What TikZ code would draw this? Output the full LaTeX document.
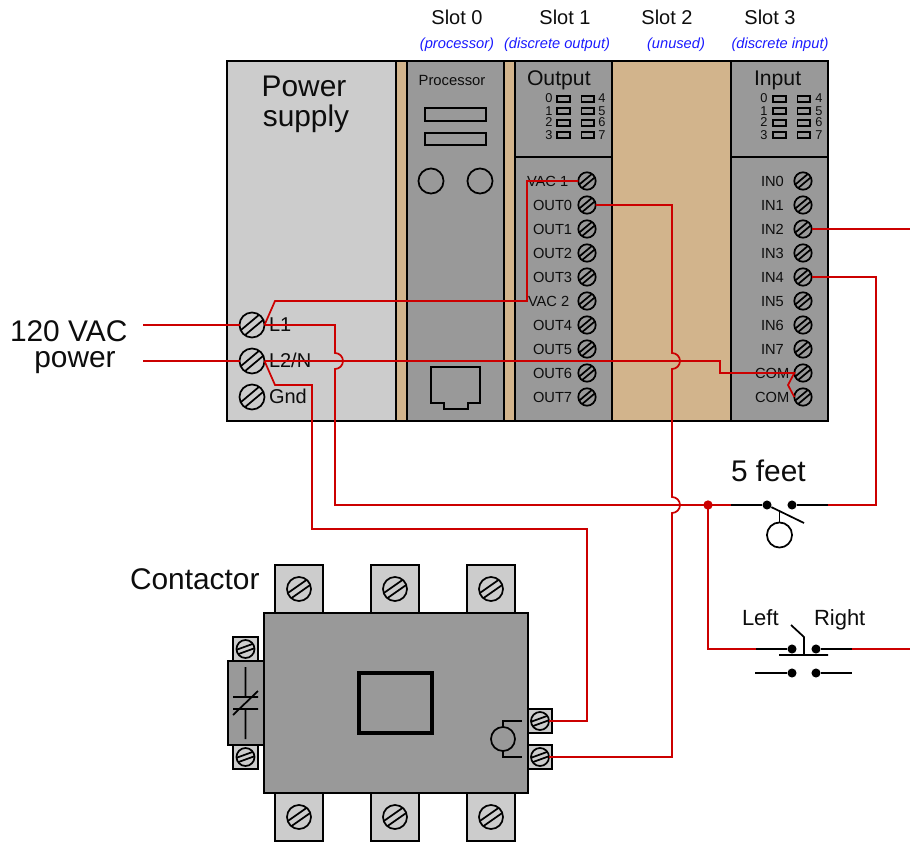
\documentclass[tikz,border=0pt]{standalone}
\usepackage{fontspec}
\setmainfont{Liberation Sans}
\definecolor{panel}{HTML}{999999}
\definecolor{light}{HTML}{CCCCCC}
\definecolor{rack}{HTML}{D2B48C}
\definecolor{wirered}{HTML}{CC0000}
\definecolor{slotblue}{HTML}{1A1AFF}
\newcommand\fs[1]{\fontsize{#1}{#1}\selectfont}
\tikzset{
  x=0.75pt,y=-0.75pt,
  box/.style={draw=black,line width=1.6pt,line join=miter},
  thin box/.style={draw=black,line width=1.3pt},
  sym/.style={draw=black,line width=1.3pt},
  wire/.style={draw=wirered,line width=1.3pt,line join=miter},
  screw/.style={circle,draw=black,line width=1.3pt,inner sep=0pt,outer sep=0pt},
  dot/.style={circle,fill=black,inner sep=0pt,minimum size=6.8pt},
  reddot/.style={circle,fill=wirered,inner sep=0pt,minimum size=7pt},
  txt/.style={inner sep=0pt,outer sep=0pt,anchor=base west,text=black!95},
  ctxt/.style={inner sep=0pt,outer sep=0pt,anchor=base,text=black!95},
  big/.style={font=\fs{22.4}},
  slot/.style={ctxt,font=\fs{15}},
  sub/.style={ctxt,font=\fs{11}\itshape,text=slotblue},
  term/.style={txt,font=\fs{11}},
  led/.style={ctxt,font=\fs{9.6}},
}
\newcommand\screwnode[5]{%
  \node[screw,minimum size={1.5pt*#4}] (#1) at (#2,#3) {};
  \draw[sym,shift={(#2,#3)},rotate=#5] (-.95*#4,.26*#4) -- (.95*#4,.26*#4) (-.95*#4,-.26*#4) -- (.95*#4,-.26*#4);
}
\begin{document}
\begin{tikzpicture}
\useasboundingbox (0,0) rectangle (910,842);
% rack
\draw[box,fill=rack] (396,61) rectangle (731,421);
\draw[box,fill=light] (227,61) rectangle (396,421);
\draw[box,fill=panel] (407,61) rectangle (504,421);
\draw[box,fill=panel] (515,61) rectangle (612,421);
\draw[box,fill=panel] (731,61) rectangle (828,421);
\draw[thin box] (515,157) -- (612,157) (731,157) -- (828,157);
% slot titles
\node[slot] (s0) at (457,25) {Slot 0};
\node[slot] (s1) at (565,25) {Slot 1};
\node[slot] (s2) at (667,25) {Slot 2};
\node[slot] (s3) at (770,25) {Slot 3};
\node[sub] (t0) at (457,49) {(processor)};
\node[sub] (t1) at (557,49) {(discrete output)};
\node[sub] (t2) at (676,49) {(unused)};
\node[sub] (t3) at (780,49) {(discrete input)};
% power supply
\node[ctxt,big] (pw1) at (304,97) {Power};
\node[ctxt,big] (pw2) at (306,127) {supply};
\node[txt,font=\fs{15}] (l1) at (269,331) {L1};
\node[txt,font=\fs{15}] (l2) at (269,367) {L2/N};
\node[txt,font=\fs{15}] (gnd) at (269,403) {Gnd};
\screwnode{pl1}{252}{325}{12.5}{40}
\screwnode{pl2}{252}{361}{12.5}{40}
\screwnode{pg}{252}{397}{12.5}{40}
% processor
\node[ctxt,font=\fs{11.1}] (proc) at (452,85) {Processor};
\draw[sym] (425,108) rectangle (486,121) (425,133) rectangle (486,145);
\draw[sym] (431,181) circle[radius=9.4pt] (480,181) circle[radius=9.4pt];
\draw[sym] (431,367) -- (480,367) -- (480,403) -- (468,403) -- (468,409) -- (444,409) -- (444,403) -- (431,403) -- cycle;
% output and input modules
\node[txt,font=\fs{15.9}] (outt) at (527,85) {Output};
\node[txt,font=\fs{15.9}] (int) at (754,85) {Input};
\foreach \i/\yy in {0/99,1/111,2/123,3/135}{
  \pgfmathtruncatemacro\j{\i+4}
  \draw[sym] (557,\yy-3) rectangle (570,\yy+3) (581.5,\yy-3) rectangle (594,\yy+3)
             (773,\yy-3) rectangle (786,\yy+3) (797.5,\yy-3) rectangle (810,\yy+3);
  \node[led] (ola\i) at (549,\yy+4) {\i};
  \node[led] (olb\i) at (602,\yy+4) {\j};
  \node[led] (ila\i) at (764,\yy+4) {\i};
  \node[led] (ilb\i) at (819,\yy+4) {\j};
}
\foreach \n/\lab/\lx/\yy in {va/VAC 1/527/181,o0/OUT0/533/205,o1/OUT1/533/229,o2/OUT2/533/253,o3/OUT3/533/277,vb/VAC 2/528/301,o4/OUT4/533/325,o5/OUT5/533/349,o6/OUT6/533/373,o7/OUT7/533/397,
  i0/IN0/761/181,i1/IN1/761/205,i2/IN2/761/229,i3/IN3/761/253,i4/IN4/761/277,i5/IN5/761/301,i6/IN6/761/325,i7/IN7/761/349,ca/COM/755/373,cb/COM/755/397}{
  \node[term] (t\n) at (\lx,\yy+5) {\lab};
}
\foreach \n/\yy in {va/181,o0/205,o1/229,o2/253,o3/277,vb/301,o4/325,o5/349,o6/373,o7/397}{
  \screwnode{\n}{587}{\yy}{8.7}{40}
}
\foreach \n/\yy in {i0/181,i1/205,i2/229,i3/253,i4/277,i5/301,i6/325,i7/349,ca/373,cb/397}{
  \screwnode{\n}{803}{\yy}{8.7}{40}
}
% labels
\node[txt,big] (vac) at (10,341) {120 VAC};
\node[ctxt,big] (pow) at (75,367) {power};
\node[txt,big] (ct) at (130,589) {Contactor};
\node[txt,big] (ft) at (731,481) {5 feet};
\node[txt,font=\fs{16.5}] (lf) at (742,625) {Left};
\node[txt,font=\fs{16.5}] (rt) at (814,625) {Right};
% contactor
\foreach \n/\xx in {a/275,b/371,c/467}{
  \draw[thin box,fill=light] (\xx,565) rectangle (\xx+48,613);
  \draw[thin box,fill=light] (\xx,793) rectangle (\xx+48,841);
  \screwnode{ct\n}{\xx+24}{589}{12}{35}
  \screwnode{cb\n}{\xx+24}{817}{12}{35}
}
\draw[thin box,fill=panel] (264,613) rectangle (528,793);
\draw[line width=2.3pt,fill=panel] (359,673) rectangle (432,733);
% aux contact
\draw[thin box,fill=light] (233,637) rectangle (258,661);
\draw[thin box,fill=light] (233,745) rectangle (258,769);
\screwnode{aa}{245.5}{649}{9}{20}
\screwnode{ab}{245.5}{757}{9}{20}
\draw[thin box,fill=panel] (228,661) rectangle (264,745);
\draw[sym] (245.5,667) -- (245.5,697) (245.5,709) -- (245.5,739)
  (233,697) -- (258,697) (233,709) -- (258,709) (233,715) -- (258,691);
% coil
\draw[thin box,fill=light] (528,709) rectangle (552,733);
\draw[thin box,fill=light] (528,745) rectangle (552,769);
\screwnode{ka}{540}{721}{9}{20}
\screwnode{kb}{540}{757}{9}{20}
\draw[sym] (503,739) circle[radius=9pt];
\draw[sym] (503,727) -- (503,721) -- (522,721) (503,751) -- (503,757) -- (522,757);
% free ends
\coordinate (inl1) at (143,325);
\coordinate (inl2) at (143,361);
\coordinate (ei2) at (910,229);
\coordinate (eps) at (910,649);
% switches
\node[reddot] (jn) at (708,505) {};
\node[dot] (fa) at (767,505) {};
\node[dot] (fb) at (792,505) {};
\node[dot] (pa) at (792,649) {};
\node[dot] (pb) at (816,649) {};
\node[dot] (pc) at (792,673) {};
\node[dot] (pd) at (816,673) {};
\coordinate (fal) at (731,505);
\coordinate (fbr) at (828,505);
\coordinate (pal) at (756,649);
\coordinate (pbr) at (852,649);
\draw[sym] (fal) -- (fa) (fb) -- (fbr) (pal) -- (pa) (pb) -- (pbr);
\draw[sym] (755,673) -- (pc) (pd) -- (852,673);
\draw[sym] (fa) -- (804,523);
\draw[sym] (779.5,512) -- (779.5,523);
\draw[sym] (779.5,535) circle[radius=9.4pt];
\draw[sym] (779,655) -- (828,655) (804,655) -- (804,637) -- (791,625);
% wires
\draw[wire] (inl1) -- (pl1.west);
\draw[wire] (inl2) -- (pl2.west);
\draw[wire] (pl1.east) -- (275,301) -- (527,301) -- (527,181) -- (va.west);
\draw[wire] (pl1.east) -- (335,325) -- (335,353) arc[start angle=90,end angle=-90,radius=6pt] -- (335,505) -- (jn.center);
\draw[wire] (pl2.east) -- (720,361) -- (720,373) -- (ca.west) -- (788,385) -- (cb.west);
\draw[wire] (pl2.east) -- (275,385) -- (312,385) -- (312,529) -- (587,529) -- (587,721) -- (ka.east);
\draw[wire] (o0.east) -- (672,205) -- (672,353) arc[start angle=90,end angle=-90,radius=6pt] -- (672,497) arc[start angle=90,end angle=-90,radius=6pt] -- (672,757) -- (kb.east);
\draw[wire] (jn.center) -- (fal);
\draw[wire] (fbr) -- (876,505) -- (876,277) -- (i4.east);
\draw[wire] (i2.east) -- (ei2);
\draw[wire] (jn.center) -- (708,649) -- (pal);
\draw[wire] (pbr) -- (eps);
\end{tikzpicture}
\end{document}
